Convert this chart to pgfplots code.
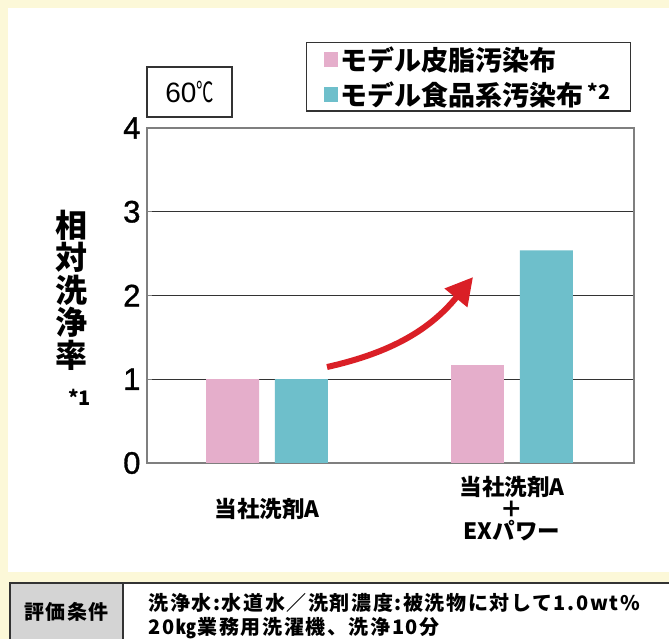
\documentclass[border=0pt]{standalone}
\usepackage{fontspec}
\setmainfont{Liberation Sans}
\newfontfamily\tickfont{Liberation Sans}[FakeBold=1.2]
\newfontfamily\jp{Noto Sans CJK JP}
\newfontfamily\jpsp{Noto Sans CJK JP}[LetterSpace=8]
\usepackage{pgfplots}
\pgfplotsset{compat=1.18}
\usetikzlibrary{arrows.meta}
\definecolor{bgy}{HTML}{FCF8D8}
\definecolor{pinkc}{HTML}{E5AECB}
\definecolor{tealc}{HTML}{6EBFCB}
\definecolor{redc}{HTML}{DA1F26}
\definecolor{framec}{HTML}{7F7F7F}
\definecolor{gridc}{HTML}{333333}
\definecolor{cellg}{HTML}{D4D4D4}
\begin{document}
\begin{tikzpicture}
\useasboundingbox (0pt,0pt) rectangle (669pt,639pt);
\begin{scope}
\clip (0pt,0pt) rectangle (669pt,639pt);
\fill[bgy] (0pt,0pt) rectangle (669pt,639pt);
\fill[white] (8pt,67pt) rectangle (680pt,631pt);
\fill[cellg] (10pt,-5pt) rectangle (123pt,56pt);
\fill[white] (123pt,-5pt) rectangle (680pt,56pt);
\draw[gridc, line width=1.2pt] (680pt,56pt) -- (10pt,56pt) -- (10pt,-5pt);
\draw[gridc, line width=1.2pt] (123pt,56pt) -- (123pt,-5pt);
\node at (66.5pt,27pt) {\jpsp\bfseries\fontsize{20}{20}\selectfont 評価条件};
\node[anchor=west, align=left, font=\jpsp\bfseries\fontsize{20}{24}\selectfont] at (145pt,23pt) {洗浄水:水道水／洗剤濃度:被洗物に対して1.0wt\%\\20㎏業務用洗濯機、洗浄10分};
\end{scope}
\draw[gridc, line width=1.2pt] (147pt,522pt) rectangle (232pt,572pt);
\node at (189.5pt,547pt) {\fontsize{28}{28}\selectfont 60{\jp\scalebox{0.62}[1]{℃}}};
\begin{axis}[
  at={(147pt,176pt)}, anchor=south west,
  scale only axis, width=487pt, height=335pt,
  xmin=-0.4898, xmax=1.498, ymin=0, ymax=4,
  clip mode=individual,
  ytick={0,1,2,3,4},
  xtick={0,1},
  xticklabels={{当社洗剤A},{当社洗剤A\\＋\\EXパワー}},
  xticklabel style={font=\jp\bfseries\fontsize{22.5}{22}\selectfont, align=center, anchor=center, yshift=-46pt},
  yticklabel style={font=\tickfont\fontsize{31}{31}\selectfont, xshift=-3pt},
  /pgf/number format/assume math mode=true,
  tick pos=left, tick align=inside, major tick length=5pt,
  xtick style={draw=none},
  ytick style={framec, line width=1pt},
  ymajorgrids, major grid style={gridc, line width=1pt},
  axis line style={framec, line width=1.3pt},
  ylabel={相\\対\\洗\\浄\\率},
  ylabel style={rotate=-90, at={(axis description cs:-0.154,0.516)}, anchor=center, align=center, font=\jp\bfseries\fontsize{32}{32.5}\selectfont},
  legend style={at={(0.9938,1.2567)}, anchor=north east, draw=gridc, line width=1.2pt, fill=white,
    font=\jp\bfseries\fontsize{27}{27}\selectfont, inner xsep=18pt, inner ysep=2pt, row sep=6pt, cells={anchor=west}},
  legend cell align=left,
  legend image code/.code={\fill[#1] (0pt,-7.5pt) rectangle (14pt,7.5pt);},
]
\addplot[ybar, bar width=0.2163, bar shift=-0.1408, fill=pinkc, draw=none] coordinates {(0,1.0) (1,1.17)};
\addplot[ybar, bar width=0.2163, bar shift=0.1408, fill=tealc, draw=none] coordinates {(0,1.0) (1,2.54)};
\legend{モデル皮脂汚染布, {モデル食品系汚染布\,{\fontsize{20}{20}\selectfont\raisebox{6pt}{*2}}}}
\draw[redc, line width=6pt, -{Triangle[length=27pt,width=28pt]}] (axis cs:0.245,1.146) to[bend right=19] (axis cs:0.841,2.22);
\node[font=\jp\bfseries\fontsize{20}{20}\selectfont] at (axis description cs:-0.138,0.197) {*1};
\end{axis}
\end{tikzpicture}
\end{document}
